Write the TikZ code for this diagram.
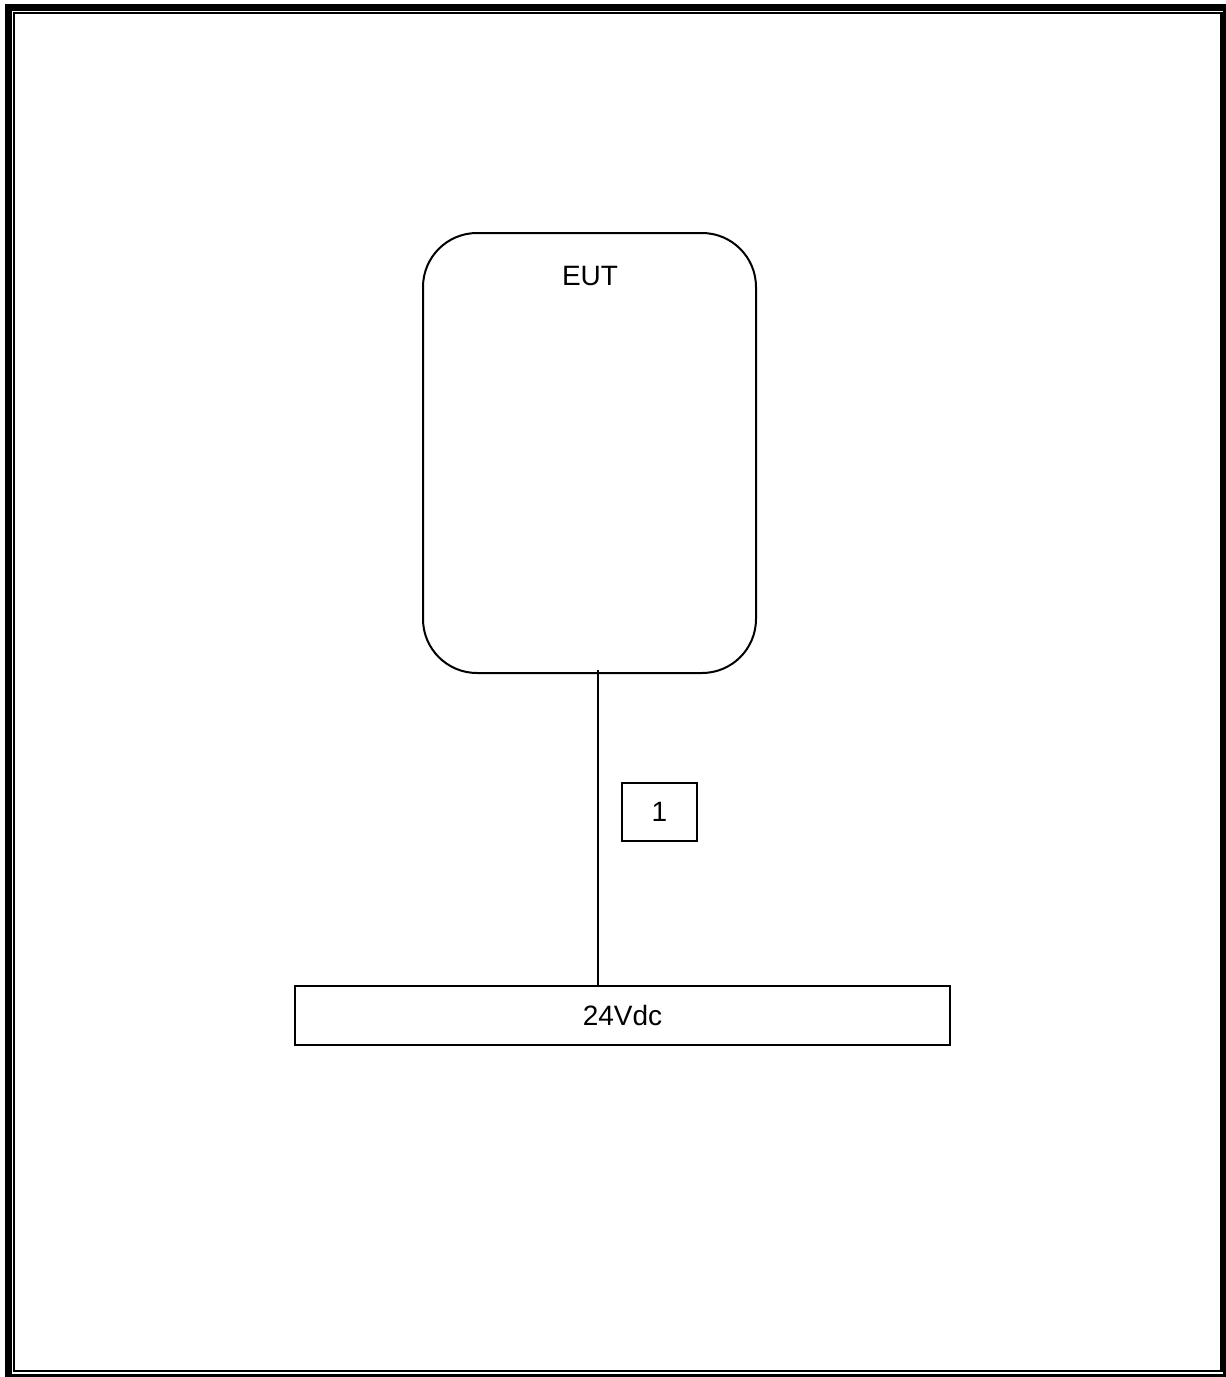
\documentclass[tikz,border=0pt]{standalone}
\usepackage{fontspec}
\setmainfont{Liberation Sans}
\begin{document}
\begin{tikzpicture}[x=0.5pt,y=-0.5pt,
  thinline/.style={line width=1pt,draw=black},
  boxstyle/.style={thinline,rectangle,inner sep=0pt,fill=white},
  txt/.style={font=\fontsize{14}{16}\selectfont}]
\useasboundingbox (0,0) rectangle (1226,1377);
% page border
\draw[line width=3.5pt] (8,7) rectangle (1226,1377);
\draw[line width=1.2pt] (14,13) rectangle (1221.5,1371);
% EUT
\node[boxstyle,rounded corners=27pt,minimum width=166.5pt,minimum height=220pt] (eut) at (589.5,453) {};
\node[txt,inner sep=0pt] (euttext) at (590,276) {EUT};
% supply
\node[boxstyle,txt,minimum width=327.5pt,minimum height=29.5pt] (dc) at (622.5,1015.5) {24Vdc};
% cable
\coordinate (top) at (598,670);
\draw[thinline] (top) -- (top |- dc.north);
% cable label
\node[boxstyle,txt,minimum width=37.5pt,minimum height=29pt] (one) at (659.5,812) {1};
\end{tikzpicture}
\end{document}
